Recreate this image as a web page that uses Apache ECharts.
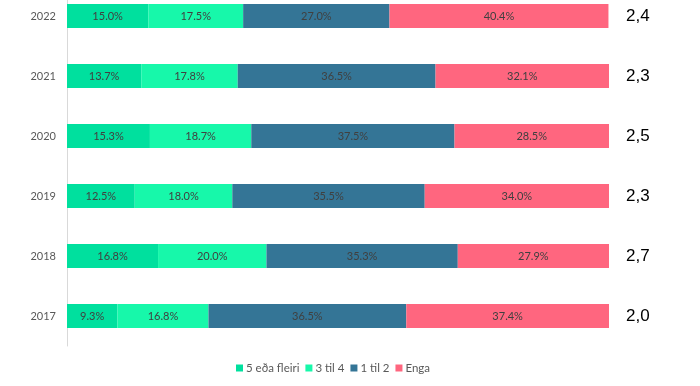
<!DOCTYPE html>
<html><head><meta charset="utf-8">
<script src="https://cdn.jsdelivr.net/npm/echarts@6/dist/echarts.min.js"></script>
<style>html,body{margin:0;padding:0;background:#fff}#c{width:700px;height:386px}</style>
</head><body><div id="c"></div>
<script>
const years = ['2022','2021','2020','2019','2018','2017'];
const averages = ['2,4','2,3','2,5','2,3','2,7','2,0'];
const seriesNames = ['5 eða fleiri','3 til 4','1 til 2','Enga'];
const s5plus = [15.0,13.7,15.3,12.5,16.8,9.3];
const s3to4 = [17.5,17.8,18.7,18.0,20.0,16.8];
const s1to2 = [27.0,36.5,37.5,35.5,35.3,36.5];
const sNone = [40.4,32.1,28.5,34.0,27.9,37.4];
const colors = ['#00E09E','#17F8AA','#347596','#FF667F'];
const values = [s5plus,s3to4,s1to2,sNone];
const font = 'Lato, "Open Sans", sans-serif';
const chart = echarts.init(document.getElementById('c'));
chart.setOption({
  animation:false,
  grid:{left:67,right:91,top:-14,bottom:40,containLabel:false,outerBoundsMode:'none'},
  legend:{bottom:7,left:231,itemWidth:7,itemHeight:7,itemGap:6,icon:'rect',
    textStyle:{color:'#595959',fontSize:11.5,fontFamily:font,padding:[0,0,0,-2]},data:seriesNames},
  xAxis:{type:'value',min:0,max:100,show:false},
  yAxis:[
    {type:'category',data:years,inverse:true,
     axisLine:{show:true,lineStyle:{color:'#D9D9D9'}},axisTick:{show:false},
     axisLabel:{color:'#595959',fontSize:11,fontFamily:font,margin:11}},
    {type:'category',data:averages,inverse:true,position:'right',
     axisLine:{show:false},axisTick:{show:false},
     axisLabel:{color:'#000',fontSize:17,fontFamily:'"Liberation Sans", Arial, sans-serif',margin:17,align:'left'}}
  ],
  series: seriesNames.map((n,i)=>({
    name:n,type:'bar',stack:'t',barWidth:24,data:values[i],
    itemStyle:{color:colors[i]},
    label:{show:true,position:'inside',formatter:p=>p.value.toFixed(1)+'%',
      color:'#404040',fontSize:11,fontFamily:font}
  }))
});
</script></body></html>
